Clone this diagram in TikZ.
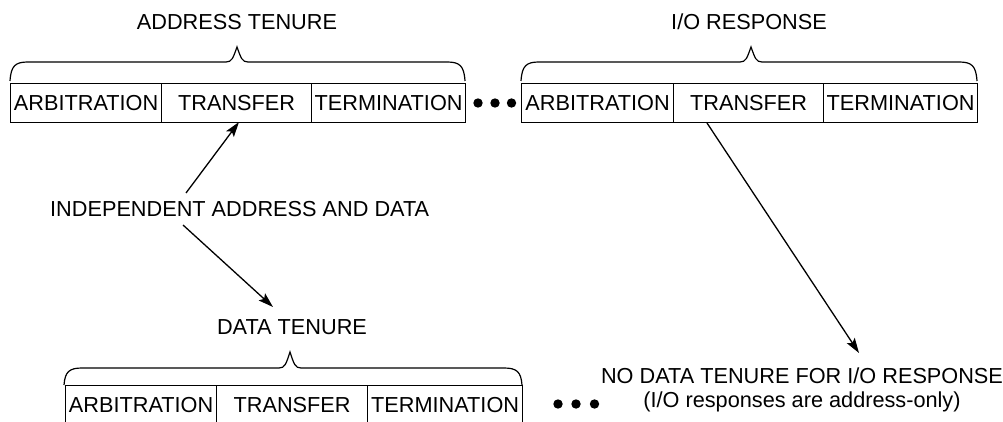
\documentclass[tikz,border=0pt]{standalone}
\usepackage{fontspec}
\setmainfont{Liberation Sans}
\usetikzlibrary{arrows.meta}
\newcommand\tenurebrace[6]{% x1, x2, xtip, ytip, yh, yend
  \draw[brc] (#1,#6) .. controls (#1+1,#5+4) and (#1+5,#5) .. (#1+18,#5)
    -- (#3-11,#5) .. controls (#3-5,#5) and (#3-4,#5-4) .. (#3,#4)
    .. controls (#3+4,#5-4) and (#3+5,#5) .. (#3+11,#5)
    -- (#2-18,#5) .. controls (#2-5,#5) and (#2-1,#5+4) .. (#2,#6);}
\begin{document}
\begin{tikzpicture}[x=1pt,y=-1pt,
  every node/.style={font=\fontsize{21.7}{25}\selectfont, inner sep=0pt},
  cell/.style={draw, line width=1.2pt, minimum height=39pt, anchor=north west},
  brc/.style={line width=1.2pt},
  arr/.style={line width=1.3pt, -{Stealth[length=15pt,width=9.5pt,inset=3pt]}},
  lbl/.style={anchor=base}]
\useasboundingbox (0,0) rectangle (1003,422);
\clip (0,0) rectangle (1003,422);
% address tenure
\node[lbl] (addrlbl) at (237,29.8) {ADDRESS TENURE};
\tenurebrace{10}{465}{237}{47}{62}{81}
\node[cell, minimum width=151pt] (aA) at (10,83) {ARBITRATION};
\node[cell, minimum width=150pt] (aT) at (161,83) {TRANSFER};
\node[cell, minimum width=154pt] (aE) at (311,83) {TERMINATION};
\fill (478,103) circle (4.7pt) (495,103) circle (4.7pt) (511.5,103) circle (4.7pt);
% I/O response
\node[lbl] (iolbl) at (749,29.8) {I/O RESPONSE};
\tenurebrace{521}{977}{751}{47}{62}{81}
\node[cell, minimum width=152pt] (iA) at (521,83) {ARBITRATION};
\node[cell, minimum width=150pt] (iT) at (673,83) {TRANSFER};
\node[cell, minimum width=154pt] (iE) at (823,83) {TERMINATION};
% independent
\node[anchor=base west] (indep) at (50,216.8) {INDEPENDENT ADDRESS AND DATA};
\coordinate (s1) at (186,193);
\coordinate (e1) at (239,122);
\coordinate (s2) at (183,225);
\coordinate (e2) at (273,307);
\draw[arr] (s1) -- (e1);
\draw[arr] (s2) -- (e2);
% data tenure
\node[lbl] (datalbl) at (292,334.8) {DATA TENURE};
\tenurebrace{64}{522}{290}{352}{368}{385}
\node[cell, minimum width=151pt] (dA) at (65,385) {ARBITRATION};
\node[cell, minimum width=151pt] (dT) at (216,385) {TRANSFER};
\node[cell, minimum width=155pt] (dE) at (367,385) {TERMINATION};
\fill (558,404) circle (4.7pt) (576,404) circle (4.7pt) (594.5,404) circle (4.7pt);
% no data tenure
\node[lbl] (nodata) at (802,383.8) {NO DATA TENURE FOR I/O RESPONSE};
\node[lbl] (nodata2) at (802,407.8) {(I/O responses are address-only)};
\coordinate (s3) at (707,123);
\coordinate (e3) at (859,353);
\draw[arr] (s3) -- (e3);
\end{tikzpicture}
\end{document}
